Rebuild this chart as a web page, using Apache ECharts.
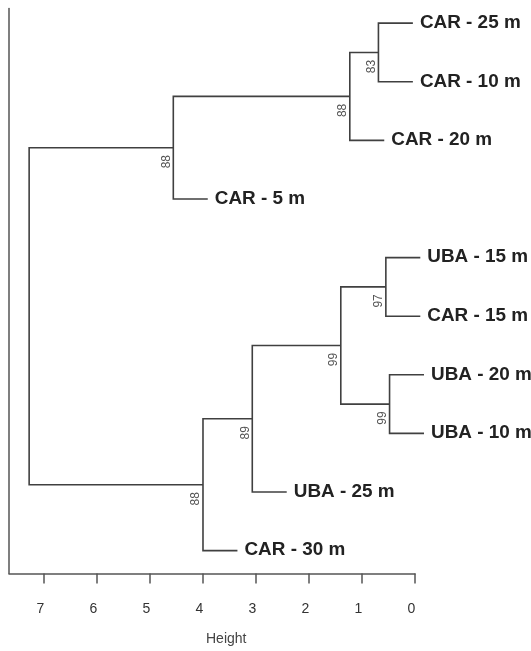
<!DOCTYPE html>
<html>
<head>
<meta charset="utf-8">
<script src="https://cdn.jsdelivr.net/npm/echarts@6/dist/echarts.min.js"></script>
<style>
html,body{margin:0;padding:0;background:#fff;}
#chart{width:531px;height:651px;}
</style>
</head>
<body>
<div id="chart"></div>
<script>
// Leaves, in drawing order from top to bottom
const leafLabels = ['CAR - 25 m','CAR - 10 m','CAR - 20 m','CAR - 5 m','UBA - 15 m','CAR - 15 m','UBA - 20 m','UBA - 10 m','UBA - 25 m','CAR - 30 m'];
// Merges (R hclust style: negative = leaf number (1-based), positive = earlier merge)
const mergeLeft   = [-7, -5, -1, 3, 2, 5, 6, 4, 8];
const mergeRight  = [-8, -6, -2, -3, 1, -9, -10, -4, 7];
const mergeHeight = [0.48, 0.55, 0.69, 1.23, 1.40, 3.07, 4.00, 4.56, 7.28];
const mergeSupport = ['99', '97', '83', '88', '99', '89', '88', '88', ''];
const leafHang = 0.65;
const heightTicks = [0, 1, 2, 3, 4, 5, 6, 7];

// Derive node vertical positions (mean of children)
const nodeY = [];
function childY(c) { return c < 0 ? (-c - 1) : nodeY[c - 1]; }
for (let i = 0; i < mergeHeight.length; i++) {
  nodeY.push((childY(mergeLeft[i]) + childY(mergeRight[i])) / 2);
}
function childH(c, parentH) { return c < 0 ? parentH - leafHang : mergeHeight[c - 1]; }

const nodeData = mergeHeight.map((h, i) => [h, nodeY[i], i]);
// leaf end positions
const leafData = [];
for (let i = 0; i < mergeHeight.length; i++) {
  [mergeLeft[i], mergeRight[i]].forEach(c => {
    if (c < 0) leafData.push([mergeHeight[i] - leafHang, -c - 1, -c - 1]);
  });
}

const lineColor = '#404040';
const chart = echarts.init(document.getElementById('chart'));
chart.setOption({
  animation: false,
  backgroundColor: '#fff',
  grid: { left: 9, right: 116, top: 8.5, bottom: 77.5 },
  xAxis: {
    type: 'value', inverse: true, min: 0, max: 7.66, position: 'bottom',
    splitLine: { show: false },
    axisLine: { show: true, onZero: false, lineStyle: { color: '#555', width: 1.5 } },
    axisTick: { show: true, customValues: heightTicks, length: 10, lineStyle: { color: '#555', width: 1.5 } },
    axisLabel: { customValues: heightTicks, fontSize: 14, color: '#333', margin: 29, padding: [0, 7, 0, 0], fontFamily: 'Liberation Sans' }
  },
  yAxis: {
    type: 'value', inverse: true, min: -0.25, max: 9.39, position: 'left',
    splitLine: { show: false },
    axisLine: { show: true, onZero: false, lineStyle: { color: '#555', width: 1.5 } },
    axisTick: { show: false }, axisLabel: { show: false }
  },
  graphic: [{
    type: 'text', left: 206, top: 632,
    style: { text: 'Height', fontSize: 14, fill: '#444', fontFamily: 'Liberation Sans' }
  }],
  series: [
    {
      type: 'custom',
      data: nodeData,
      clip: false,
      renderItem: function (params, api) {
        const i = api.value(2);
        const h = mergeHeight[i];
        const a = mergeLeft[i], b = mergeRight[i];
        const ya = childY(a), yb = childY(b);
        const pA0 = api.coord([childH(a, h), ya]);
        const pA1 = api.coord([h, ya]);
        const pB1 = api.coord([h, yb]);
        const pB0 = api.coord([childH(b, h), yb]);
        const children = [{
          type: 'polyline',
          shape: { points: [pA0, pA1, pB1, pB0] },
          style: { stroke: lineColor, lineWidth: 1.6, fill: null }
        }];
        if (mergeSupport[i]) {
          const m = api.coord([h, nodeY[i]]);
          children.push({
            type: 'text',
            x: m[0] - 7, y: m[1] + 14,
            rotation: Math.PI / 2,
            style: { text: mergeSupport[i], fill: '#555', fontSize: 12, fontFamily: 'Liberation Sans', align: 'center', verticalAlign: 'middle' }
          });
        }
        return { type: 'group', children: children };
      }
    },
    {
      type: 'custom',
      data: leafData,
      clip: false,
      renderItem: function (params, api) {
        const p = api.coord([api.value(0), api.value(1)]);
        return {
          type: 'text',
          x: p[0] + 7, y: p[1],
          scaleX: 1.08,
          style: { text: leafLabels[api.value(2)], fill: '#222', fontSize: 17.5, fontWeight: 'bold', fontFamily: 'Liberation Sans', align: 'left', verticalAlign: 'middle' }
        };
      }
    }
  ]
});
</script>
</body>
</html>
